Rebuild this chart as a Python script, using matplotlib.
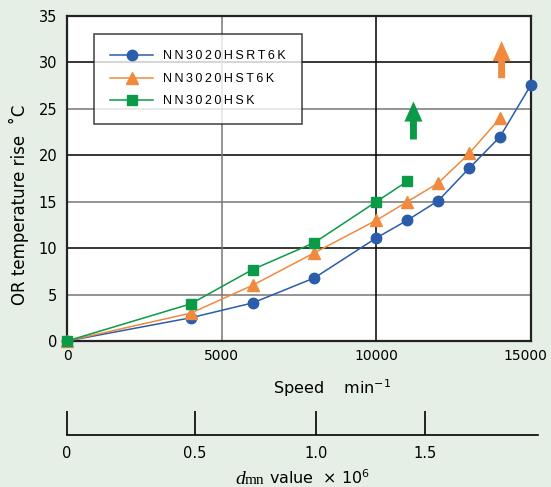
import numpy as np
import matplotlib.pyplot as plt
import matplotlib.transforms as mtransforms
from matplotlib.patches import FancyArrowPatch

plt.rcParams['font.family'] = ['DejaVu Sans']

# data
speed_rt6k = [0, 4000, 6000, 8000, 10000, 11000, 12000, 13000, 14000, 15000]
rise_rt6k = [0, 2.5, 4.1, 6.8, 11.1, 13.0, 15.1, 18.6, 22.0, 27.6]

speed_t6k = [0, 4000, 6000, 8000, 10000, 11000, 12000, 13000, 14000]
rise_t6k = [0, 3.0, 6.0, 9.5, 13.0, 15.0, 17.0, 20.2, 24.0]

speed_hsk = [0, 4000, 6000, 8000, 10000, 11000]
rise_hsk = [0, 4.0, 7.7, 10.6, 15.0, 17.2]

labels = ['NN3020HSRT6K', 'NN3020HST6K', 'NN3020HSK']

# dmn axis: tick labels and the speed they sit under
dmn_labels = ['0', '0.5', '1.0', '1.5']
dmn_tick_speeds = [0, 4140, 8050, 11570]

# arrows (x, y_base, y_top)
arrow_hsk = (11200, 21.7, 25.8)
arrow_t6k = (14050, 28.3, 32.3)

bg = '#e6efe6'
blue = '#2a5caa'
orange = '#f08a3c'
green = '#0a9a48'

fig = plt.figure(figsize=(5.51, 4.87), dpi=100, facecolor=bg)
ax = fig.add_axes([67 / 551, 1 - 341 / 487, 464 / 551, 325 / 487])
ax.set_facecolor('white')

ax.set_xlim(0, 15000)
ax.set_ylim(0, 35)
ax.set_xticks([0, 5000, 10000, 15000])
ax.set_yticks(np.arange(0, 36, 5))
ax.tick_params(length=0, labelsize=10.5)
ax.tick_params(axis='x', labelsize=10)
ax.tick_params(axis='y', pad=7)
ax.tick_params(axis='x', pad=6)
for s in ax.spines.values():
    s.set_linewidth(1.6)
    s.set_color('#222222')

# last speed label sits a little to the left so it stays on the figure
last = ax.get_xticklabels()[-1]
last.set_transform(last.get_transform() +
                   mtransforms.ScaledTranslation(-6 / 100, 0, fig.dpi_scale_trans))

# grid: black at 10s, grey at 5s
for y in [5, 15, 25]:
    ax.axhline(y, color='#777777', lw=1.1, zorder=0)
for y in [10, 20, 30]:
    ax.axhline(y, color='black', lw=1.1, zorder=0)
ax.axvline(5000, color='#777777', lw=1.1, zorder=0)
ax.axvline(10000, color='black', lw=1.1, zorder=0)

l1, = ax.plot(speed_rt6k, rise_rt6k, '-o', color=blue, ms=7.5, lw=1.1,
              clip_on=False, zorder=3)
l2, = ax.plot(speed_t6k, rise_t6k, '-^', color=orange, ms=8.5, lw=1.1,
              clip_on=False, zorder=4)
l3, = ax.plot(speed_hsk, rise_hsk, '-s', color=green, ms=6.5, lw=1.1,
              clip_on=False, zorder=5)

for (x, y0, y1), c in [(arrow_hsk, green), (arrow_t6k, orange)]:
    arr = FancyArrowPatch((x, y0), (x, y1),
                          arrowstyle='simple,head_width=1.3,head_length=1.45,tail_width=0.5',
                          mutation_scale=10, shrinkA=0, shrinkB=0,
                          color=c, lw=0, zorder=6)
    ax.add_patch(arr)

# letter-spaced legend text like the reference
spaced = ['\u2009'.join(t) for t in labels]
leg = ax.legend([l1, l2, l3], spaced, loc='upper left',
                bbox_to_anchor=(27 / 464, 1 - 18 / 325),
                prop={'family': 'Liberation Sans', 'size': 9},
                frameon=True, fancybox=False, borderpad=1.3,
                handlelength=3.4, handletextpad=0.8, labelspacing=0.85,
                borderaxespad=0)
leg.get_frame().set_edgecolor('#222222')
leg.get_frame().set_linewidth(1.2)

ax.set_ylabel('OR temperature rise  ˚C', fontsize=12, va='center')
ax.yaxis.set_label_coords((18.5 - 67) / 464, (341 - 205) / 325)
ax.set_xlabel('Speed    min$^{-1}$', fontsize=11.5, va='center')
ax.xaxis.set_label_coords((332 - 67) / 464, (341 - 388) / 325)

# secondary dmn axis
ax2 = fig.add_axes([67 / 551, 1 - 435 / 487, 471 / 551, 0.0001])
ax2.patch.set_alpha(0)
ax2.set_xlim(0, 15000 * 471 / 464)
for side in ['top', 'left', 'right']:
    ax2.spines[side].set_visible(False)
ax2.spines['bottom'].set_linewidth(1.2)
ax2.set_yticks([])
ax2.set_xticks(dmn_tick_speeds)
ax2.set_xticklabels(dmn_labels)
ax2.tick_params(axis='x', direction='in', length=17, width=1.2, labelsize=10.5, pad=8)

# "dmn value x10^6" built from pieces
fig.canvas.draw()
r = fig.canvas.get_renderer()
ytxt = 1 - 484 / 487
x0 = 235
t1 = fig.text(x0 / 551, ytxt, 'd', fontsize=14, family='Liberation Serif',
              style='italic', va='baseline')
x0 += t1.get_window_extent(r).width
t2 = fig.text(x0 / 551, ytxt, 'mn', fontsize=11, family='Liberation Serif',
              va='baseline')
x0 += t2.get_window_extent(r).width + 5
t3 = fig.text(x0 / 551, ytxt, 'value  \u00d7 10$^{6}$', fontsize=11.5,
              va='baseline')

fig.savefig('out.png', dpi=100, facecolor=bg)
